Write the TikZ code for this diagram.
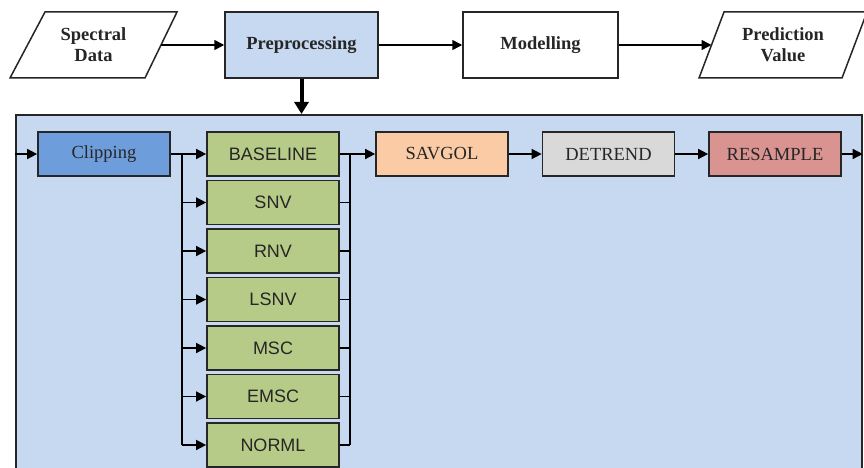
\documentclass[tikz,border=0pt]{standalone}
\usepackage{fontspec}
\setmainfont{Liberation Serif}
\newfontfamily\arialf{Liberation Sans}
\usetikzlibrary{arrows.meta}
\definecolor{panelc}{HTML}{C6D9F1}
\definecolor{clipc}{HTML}{6D9EDB}
\definecolor{greenc}{HTML}{B7CB88}
\definecolor{peachc}{HTML}{FACBA5}
\definecolor{grayc}{HTML}{D9D9D9}
\definecolor{redc}{HTML}{D99391}
\definecolor{txtc}{HTML}{262626}
\tikzset{
  topbox/.style={draw=black!85, line width=1.5pt, minimum width=153pt, minimum height=66pt, inner sep=0pt, font=\fontsize{18.5}{21}\selectfont\bfseries, text=txtc, align=center},
  inbox/.style={draw=black!85, line width=1.7pt, minimum width=132pt, minimum height=44pt, inner sep=0pt, font=\fontsize{18.5}{20}\selectfont, text=txtc},
  gbox/.style={inbox, fill=greenc, font=\arialf\fontsize{18}{20}\selectfont},
  arr/.style={line width=1.5pt, -{Triangle[length=10pt,width=10pt]}},
  ln/.style={line width=1.5pt},
  thickarr/.style={line width=4pt, -{Triangle[length=12pt,width=14pt]}}
}
\begin{document}
\begin{tikzpicture}[x=1pt,y=-1pt]
\useasboundingbox (0,0) rectangle (864,468);
\fill[white] (0,0) rectangle (864,468);

% top row
\draw[line width=1.5pt, black!85] (45,12) -- (177,12) -- (145,78) -- (10,78) -- cycle;
\node[font=\fontsize{18.5}{21}\selectfont\bfseries, text=txtc, align=center] (spec) at (93.5,45) {Spectral\\Data};
\coordinate (specR) at (161,45);

\node[topbox, fill=panelc] (pre) at (301.5,45) {Preprocessing};
\node[topbox, minimum width=155pt] (mod) at (540.5,45) {Modelling};

\draw[line width=1.5pt, black!85] (724,12) -- (867,12) -- (842,78) -- (699,78) -- cycle;
\node[font=\fontsize{18.5}{21}\selectfont\bfseries, text=txtc, align=center] (pred) at (783,45) {Prediction\\Value};
\coordinate (predL) at (711.5,45);

\draw[arr] (specR) -- (pre.west);
\draw[arr] (pre.east) -- (mod.west);
\draw[arr] (mod.east) -- (predL);

% panel
\node[draw=black!85, line width=1.7pt, fill=panelc, anchor=north west, minimum width=846pt, minimum height=380pt, inner sep=0pt] (panel) at (15,114) {};
\draw[thickarr] (pre.south) -- (pre.south |- panel.north);

% inner boxes
\node[inbox, fill=clipc] (clip) at (104,154) {Clipping};
\node[gbox] (g1) at (273,154) {BASELINE};
\node[gbox] (g2) at (273,202.5) {SNV};
\node[gbox] (g3) at (273,251) {RNV};
\node[gbox] (g4) at (273,299.5) {LSNV};
\node[gbox] (g5) at (273,348) {MSC};
\node[gbox] (g6) at (273,396.5) {EMSC};
\node[gbox] (g7) at (273,445) {NORML};
\node[inbox, fill=peachc] (sav) at (442,154) {SAVGOL};
\node[inbox, fill=grayc] (det) at (608.5,154) {DETREND};
\node[inbox, fill=redc] (res) at (775,154) {RESAMPLE};

\draw[arr] (panel.west |- clip.west) -- (clip.west);

\coordinate (bl) at (182,154);
\coordinate (br) at (350,154);
\draw[ln] (clip.east) -- (bl) -- (bl |- g7.west);
\draw[ln] (br) -- (br |- g7.east);
\foreach \g in {g1,g2,g3,g4,g5,g6,g7}{
  \draw[arr] (bl |- \g.west) -- (\g.west);
  \draw[ln] (\g.east) -- (br |- \g.east);
}
\draw[arr] (g1.east) -- (sav.west);
\draw[arr] (sav.east) -- (det.west);
\draw[arr] (det.east) -- (res.west);
\draw[arr] (res.east) -- (panel.east |- res.east);
\end{tikzpicture}
\end{document}
